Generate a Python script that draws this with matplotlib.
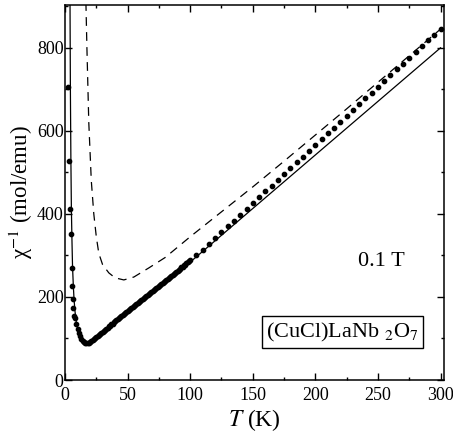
import matplotlib
matplotlib.use("Agg")
import matplotlib.pyplot as plt
from matplotlib.ticker import MultipleLocator

plt.rcParams['font.family'] = ['Liberation Serif', 'DejaVu Serif']
plt.rcParams['mathtext.fontset'] = 'stix'

# measured points (dots)
t_low = [2.6, 3.4, 4.0, 4.5, 5.3, 5.6, 6.1, 6.6, 7.4]
chi_low = [705, 528, 411, 351, 269, 226, 195, 173, 154]

t_mid = [8, 9, 10, 11, 12, 13, 14, 15, 16, 17, 18, 19, 20, 21, 22, 23, 24, 25,
         26, 27, 28, 29, 30, 31, 32, 33, 34, 35, 36, 37, 38, 39, 40, 41, 42, 43,
         44, 45, 46, 47, 48, 49, 50, 51, 52, 53, 54, 55, 56, 57, 58, 59, 60, 61,
         62, 63, 64, 65, 66, 67, 68, 69, 70, 71, 72, 73, 74, 75, 76, 77, 78, 79,
         80, 81, 82, 83, 84, 85, 86, 87, 88, 89, 90, 91, 92, 93, 94, 95, 96, 97,
         98, 99, 100]
chi_mid = [150, 135, 123, 113, 105, 99, 95, 92, 90, 89, 89, 90, 92, 94, 96, 99,
           101, 104, 106, 109, 111, 114, 116, 119, 121, 124, 126, 129, 131, 134,
           136, 139, 141, 144, 146, 149, 151, 154, 156, 159, 161, 164, 166, 168,
           171, 173, 176, 178, 180, 183, 185, 188, 190, 192, 195, 197, 200, 202,
           204, 207, 209, 212, 214, 216, 219, 221, 224, 226, 228, 231, 233, 236,
           238, 241, 243, 246, 248, 251, 253, 256, 258, 261, 263, 266, 268, 271,
           273, 276, 278, 281, 283, 286, 288]

t_high = [105, 110, 115, 120, 125, 130, 135, 140, 145, 150, 155, 160, 165, 170,
          175, 180, 185, 190, 195, 200, 205, 210, 215, 220, 225, 230, 235, 240,
          245, 250, 255, 260, 265, 270, 275, 280, 285, 290, 295, 300]
chi_high = [300, 314, 328, 342, 356, 370, 384, 398, 412, 426, 440, 454, 468, 482,
            496, 510, 524, 538, 552, 566, 580, 594, 608, 622, 636, 650, 664, 678,
            692, 706, 720, 734, 748, 762, 776, 790, 804, 818, 832, 846]

# fit curve (solid)
t_fit = [4.0, 4.3, 4.7, 5.1, 5.6, 6.0, 6.6, 7.2, 8, 9, 10, 11, 12, 14, 16, 18,
         20, 25, 30, 40, 50, 60, 70, 80, 90, 100, 150, 200, 250, 300]
chi_fit = [910, 700, 530, 410, 330, 275, 230, 195, 165, 140, 125, 114, 106, 96,
           91, 89, 91, 103, 116, 141, 166, 190, 214, 238, 262, 284, 413, 542,
           671, 800]

# dashed curve
t_dash = [16.7, 17.5, 19, 21, 23, 25, 27, 30, 35, 40, 47, 55, 67, 80, 100, 125,
          150, 175, 200, 225, 250, 275, 300]
chi_dash = [910, 800, 620, 480, 400, 345, 305, 278, 258, 246, 241, 248, 270,
            295, 345, 405, 465, 527, 590, 653, 717, 781, 845]

fig = plt.figure(figsize=(4.53, 4.41), dpi=100)
ax = fig.add_axes([0.1435, 0.1383, 0.8373, 0.8503])

ax.plot(t_fit, chi_fit, '-', color='black', lw=0.9)
ax.plot(t_dash, chi_dash, color='black', lw=0.9, dashes=(7, 5))
ax.plot(t_low + t_mid + t_high, chi_low + chi_mid + chi_high, 'o',
        color='black', ms=3.1, mec='black')

ax.set_xlim(0, 303)
ax.set_ylim(0, 903)
ax.xaxis.set_major_locator(MultipleLocator(50))
ax.xaxis.set_minor_locator(MultipleLocator(25))
ax.yaxis.set_major_locator(MultipleLocator(200))
ax.yaxis.set_minor_locator(MultipleLocator(100))
ax.tick_params(which='both', direction='in', top=True, right=True,
               labelsize=13, width=1)
ax.tick_params(which='major', length=5)
ax.tick_params(which='minor', length=2.5)
ax.tick_params(axis='x', pad=5)
ax.tick_params(axis='y', pad=1)
for s in ax.spines.values():
    s.set_linewidth(1.1)

ax.set_xlabel('$T$ (K)', fontsize=17, labelpad=2)
ax.set_ylabel('χ$^{-1}$ (mol/emu)', fontsize=16.5, labelpad=1)

ax.text(0.834, 0.315, '0.1 T', transform=ax.transAxes, fontsize=16,
        ha='center', va='center')
ax.text(0.731, 0.128, '(CuCl)LaNb $_2$O$_7$', transform=ax.transAxes,
        fontsize=16, ha='center', va='center',
        bbox=dict(boxstyle='square,pad=0.2', fc='white', ec='black', lw=1))

fig.savefig('out.png', dpi=100)
